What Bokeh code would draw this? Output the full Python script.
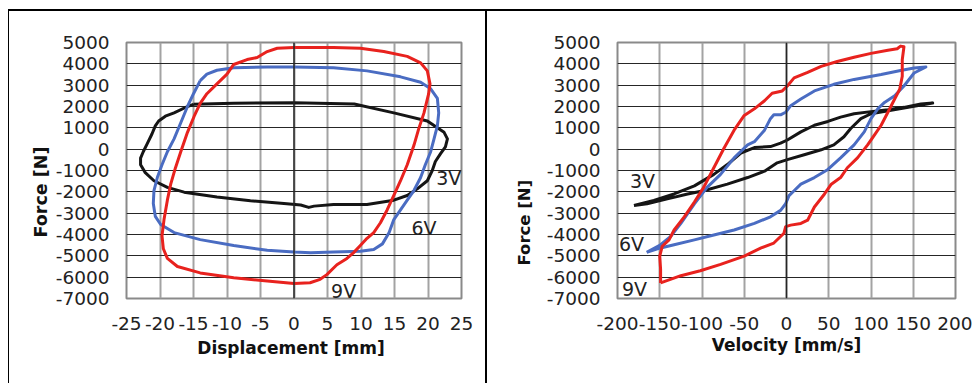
from bokeh.plotting import figure
from bokeh.layouts import row, column
from bokeh.models import Range1d, FixedTicker, Label, Span, Div, Title
from bokeh.embed import file_html
from bokeh.resources import INLINE

# ---------------- data: Force vs Displacement ----------------
disp_3v = [-15, -9, 0, 9, 14.9, 19.9, 22.4, 22.9, 22.6, 21.9, 21.1, 20.6, 19.9, 18.4, 16.9, 14.9, 10.9, 5.9, 3.0, 2.2,
           1.0, -1.5, -6.5, -11.5, -16.4, -18.9, -20.9, -22.2, -22.9, -22.9, -22.5, -21.9, -21.2, -20.7, -20.2, -19.2,
           -17.9, -15.9, -15]
force_d_3v = [2100, 2150, 2180, 2120, 1700, 1320, 790, 485, 110, -200, -580, -1030, -1480, -1860, -2170, -2390, -2590,
              -2590, -2670, -2730, -2620, -2545, -2420, -2240, -2015, -1790, -1480, -1100, -730, -420, -120, 260, 710,
              1090, 1320, 1545, 1700, 2000, 2100]

disp_6v = [-14, -13, -11.5, -9, -4, 0, 5.9, 10.9, 15.9, 18.9, 20.4, 21.4, 21.6, 21.4, 20.9, 20.4, 19.6, 18.9, 17.9, 16.9,
           15.9, 14.9, 14.2, 13.2, 11.9, 9.9, 5.9, 2.5, 0, -4, -9, -14, -17.9, -19.9, -20.7, -21, -20.9, -20.4, -19.7,
           -18.9, -17.9, -16.9, -15.9, -15, -14]
force_d_6v = [3210, 3515, 3700, 3820, 3850, 3850, 3820, 3670, 3390, 3140, 2830, 2380, 1700, 1090, 485, -120, -730, -1330,
              -1940, -2390, -2850, -3300, -3910, -4440, -4700, -4790, -4820, -4850, -4820, -4740, -4515, -4240, -3910,
              -3530, -3150, -2545, -1940, -1330, -730, -120, 485, 1240, 2000, 2600, 3210]

disp_9v = [-10, -9, -7, -5.5, -4, -2.5, 0, 5.9, 9.9, 13.4, 16.9, 18.9, 19.9, 20.3, 20.1, 19.4, 18.6, 17.9, 16.9, 15.9,
           14.9, 13.9, 12.9, 11.9, 10.9, 9.9, 8.9, 7.9, 6.4, 4.9, 3.9, 2.4, 0, -4, -9, -14, -17.4, -18.9, -19.5, -19.7,
           -19.4, -18.9, -18.4, -17.7, -16.9, -15.9, -14.9, -14, -13, -11.5, -10]
force_d_9v = [3515, 3970, 4200, 4300, 4575, 4730, 4760, 4760, 4730, 4575, 4350, 4045, 3670, 3060, 2600, 1700, 940, 180,
              -730, -1480, -2170, -2850, -3450, -3910, -4180, -4515, -4850, -5120, -5420, -5880, -6100, -6260, -6300,
              -6180, -6030, -5800, -5500, -5120, -4670, -4060, -3300, -2390, -1640, -880, -120, 790, 1545, 2150, 2600,
              3060, 3515]

# ---------------- data: Force vs Velocity ----------------
vel_3v = [-180.5, -157, -133, -109, -86, -70, -54, -38, -19, -7, 1, 17, 33, 49, 64, 80, 100, 120, 139, 159, 173,
          100, 88, 76, 68, 56, 41, 21, 1, -11, -26, -46, -70, -98, -117, -141, -165, -180.5]
force_v_3v = [-2640, -2400, -2100, -1720, -1180, -720, -180, 77, 120, 280, 430, 810, 1120, 1300, 1500, 1660, 1760, 1850,
              1960, 2115, 2160, 1660, 1430, 970, 580, 200, -30, -260, -490, -640, -1030, -1330, -1640, -1950, -2100,
              -2330, -2560, -2640]

vel_6v = [-165.5, -149, -137, -125, -109, -94, -78, -62, -46, -38, -26, -19, -15, -7, -1, 5, 17, 33, 56, 80, 112, 135,
          151, 165, 151, 139, 128, 116, 108, 100, 92, 80, 64, 49, 33, 17, 9, 3, -1, -7, -19, -38, -62, -86, -109, -133,
          -149, -165.5]
force_v_6v = [-4830, -4480, -4090, -3480, -2560, -1790, -1180, -410, 200, 350, 890, 1430, 1610, 1610, 1730, 2040, 2350,
              2730, 3040, 3270, 3500, 3690, 3800, 3850, 3570, 2960, 2500, 2190, 1890, 1430, 810, 200, -410, -950, -1330,
              -1640, -1950, -2180, -2560, -2870, -3170, -3480, -3790, -4020, -4250, -4480, -4630, -4830]

vel_9v = [-149, -149, -150, -147, -139, -133, -121, -109, -98, -86, -74, -62, -50, -38, -26, -17, -5, 1, 9, 25, 41, 60,
          80, 100, 120, 131, 135, 139, 137, 137, 134, 128, 120, 112, 104, 96, 84, 72, 64, 53, 45, 33, 25, 17, 5, -1, -3,
          -15, -30, -50, -78, -102, -125, -149]
force_v_9v = [-6270, -5630, -5010, -4550, -4250, -3790, -3170, -2480, -1790, -870, 46, 890, 1580, 1890, 2270, 2620, 2730,
              2960, 3340, 3600, 3880, 4110, 4310, 4490, 4640, 4710, 4830, 4800, 4190, 3420, 2810, 2350, 1730, 1120, 660,
              200, -410, -870, -1330, -1640, -2100, -2710, -3330, -3480, -3560, -3630, -3940, -4400, -4630, -5010,
              -5400, -5700, -5930, -6270]

# ---------------- ticks / labels ----------------
force_ticks = [5000, 4000, 3000, 2000, 1000, 0, -1000, -2000, -3000, -4000, -5000, -6000, -7000]
force_tick_labels = ["5000", "4000", "3000", "2000", "1000", "0", "-1000", "-2000", "-3000", "-4000", "-5000",
                     "-6000", "-7000"]
disp_ticks = [-25, -20, -15, -10, -5, 0, 5, 10, 15, 20, 25]
disp_tick_labels = ["-25", "-20", "-15", "-10", "-5", "0", "5", "10", "15", "20", "25"]
vel_ticks = [-200, -150, -100, -50, 0, 50, 100, 150, 200]
vel_tick_labels = ["-200", "-150", "-100", "-50", "0", "50", "100", "150", "200"]
series_names = ["3V", "6V", "9V"]
series_colors = ["#151515", "#4a6cc2", "#e8221e"]

FONT = "DejaVu Sans"
H = 372


def make_fig(width, xr, xticks, xlabels, xtitle, bl, br, bt, bb, x_title_standoff,
             y_title_size, y_title_offset, y_title_standoff):
    p = figure(width=width, height=H, x_range=Range1d(*xr), y_range=Range1d(-7000, 5000),
               output_backend="svg", toolbar_location=None,
               min_border_left=bl, min_border_right=br, min_border_top=bt, min_border_bottom=bb)
    p.background_fill_color = "white"
    p.border_fill_color = "white"
    p.outline_line_color = "#8a8a8a"
    p.outline_line_width = 2
    p.xaxis.ticker = FixedTicker(ticks=xticks)
    p.yaxis.ticker = FixedTicker(ticks=force_ticks)
    p.xaxis.major_label_overrides = {t: l for t, l in zip(xticks, xlabels)}
    p.yaxis.major_label_overrides = {t: l for t, l in zip(force_ticks, force_tick_labels)}
    for ax in (p.xaxis, p.yaxis):
        ax.axis_line_color = None
        ax.major_tick_line_color = None
        ax.minor_tick_line_color = None
        ax.major_tick_out = 0
        ax.major_tick_in = 0
        ax.major_label_text_font = FONT
        ax.major_label_text_font_size = "18.5px"
        ax.major_label_text_color = "#222222"
    p.xaxis.axis_label_text_font = FONT
    p.xaxis.axis_label_text_font_size = "17px"
    p.xaxis.axis_label_text_font_style = "bold"
    p.xaxis.axis_label_text_color = "#111111"
    p.xaxis.major_label_standoff = 18
    p.yaxis.major_label_standoff = 17
    p.xaxis.axis_label = xtitle
    p.xaxis.axis_label_standoff = x_title_standoff
    # y title as a side title, anchored from the bottom of the frame like in the original
    p.add_layout(Title(text="Force [N]", align="left", offset=y_title_offset, standoff=y_title_standoff,
                       text_font=FONT, text_font_size=y_title_size, text_font_style="bold",
                       text_color="#111111"), "left")
    p.xgrid.grid_line_color = "#a3a3a3"
    p.xgrid.grid_line_width = 2
    p.ygrid.grid_line_color = "#262626"
    p.ygrid.grid_line_width = 1.2
    p.add_layout(Span(location=0, dimension="height", line_color="#262626", line_width=1.5))
    return p


# ---------- left panel ----------
p1 = make_fig(476, (-25, 25), disp_ticks, disp_tick_labels, "Displacement  [mm]", 117, 24, 23, 85, 5,
              "17.5px", 61, 4)
for xs, ys, c in zip([disp_3v, disp_6v, disp_9v], [force_d_3v, force_d_6v, force_d_9v], series_colors):
    p1.line(xs, ys, line_color=c, line_width=3, line_join="round")
for name, (lx, ly) in zip(series_names, [(23.1, -1333), (19.4, -3680), (7.4, -6636)]):
    p1.add_layout(Label(x=lx, y=ly, text=name, text_align="center", text_baseline="middle",
                        text_font=FONT, text_font_size="19px", text_color="#222222"))

# ---------- right panel ----------
p2 = make_fig(485, (-200, 200), vel_ticks, vel_tick_labels, "Velocity [mm/s]", 130, 17, 31, 80, 2,
              "16.5px", 33, 19)
for xs, ys, c in zip([vel_3v, vel_6v, vel_9v], [force_v_3v, force_v_6v, force_v_9v], series_colors):
    p2.line(xs, ys, line_color=c, line_width=3, line_join="round")
for name, (lx, ly) in zip(series_names, [(-170.4, -1483), (-183.4, -4425), (-179.9, -6540)]):
    p2.add_layout(Label(x=lx, y=ly, text=name, text_align="center", text_baseline="middle",
                        text_font=FONT, text_font_size="19px", text_color="#222222"))


def block(w, h, color):
    return Div(text="", width=w, height=h, margin=0, styles={"background-color": color})


layout = column(
    block(972, 9, "white"),
    row(
        block(8, 374, "white"),
        column(
            block(964, 2, "black"),
            row(block(1, H, "black"), p1, block(2, H, "black"), p2, spacing=0),
            spacing=0,
        ),
        spacing=0,
    ),
    spacing=0,
)
open("out.html", "w").write(file_html(layout, INLINE))
